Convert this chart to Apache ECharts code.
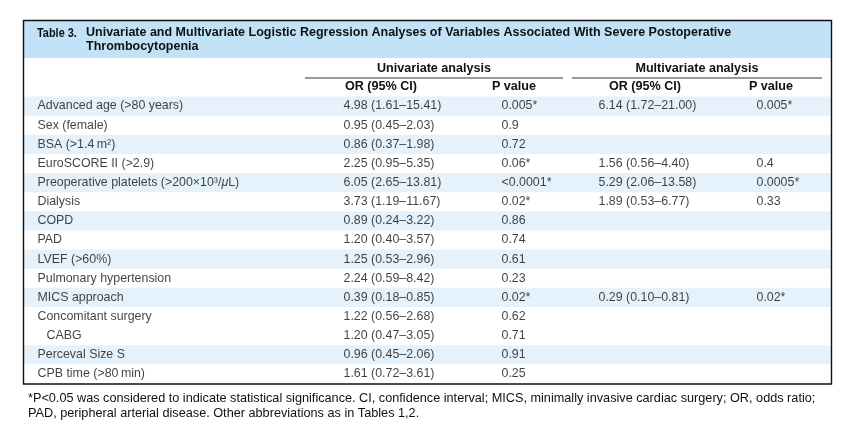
<!DOCTYPE html>
<html><head><meta charset="utf-8">
<script src="https://cdn.jsdelivr.net/npm/echarts@6/dist/echarts.min.js"></script>
<style>html,body{margin:0;padding:0;background:#fff}#c{width:856px;height:445px}</style>
</head><body><div id="c"></div>
<script>
// ---- data ----
const tableLabel = 'Table 3.';
const titleLines = ['Univariate and Multivariate Logistic Regression Analyses of Variables Associated With Severe Postoperative', 'Thrombocytopenia'];
const groupHeaders = ['Univariate analysis', 'Multivariate analysis'];
const columnHeaders = ['OR (95% CI)', 'P value', 'OR (95% CI)', 'P value'];
const variables = ['Advanced age (>80 years)', 'Sex (female)', 'BSA (>1.4\u2009m\u00b2)', 'EuroSCORE II (>2.9)',
  'Preoperative platelets (>200\u00d710\u00b3/{i|\u03bc}L)', 'Dialysis', 'COPD', 'PAD', 'LVEF (>60%)',
  'Pulmonary hypertension', 'MICS approach', 'Concomitant surgery', 'CABG', 'Perceval Size S', 'CPB time (>80\u2009min)'];
const indented = [0,0,0,0,0,0,0,0,0,0,0,0,1,0,0];
const shaded   = [1,0,1,0,1,0,1,0,1,0,1,0,0,1,0];
const uniOR = ['4.98 (1.61\u201315.41)', '0.95 (0.45\u20132.03)', '0.86 (0.37\u20131.98)', '2.25 (0.95\u20135.35)',
  '6.05 (2.65\u201313.81)', '3.73 (1.19\u201311.67)', '0.89 (0.24\u20133.22)', '1.20 (0.40\u20133.57)',
  '1.25 (0.53\u20132.96)', '2.24 (0.59\u20138.42)', '0.39 (0.18\u20130.85)', '1.22 (0.56\u20132.68)',
  '1.20 (0.47\u20133.05)', '0.96 (0.45\u20132.06)', '1.61 (0.72\u20133.61)'];
const uniP = ['0.005*', '0.9', '0.72', '0.06*', '<0.0001*', '0.02*', '0.86', '0.74', '0.61', '0.23', '0.02*', '0.62', '0.71', '0.91', '0.25'];
const multiOR = ['6.14 (1.72\u201321.00)', '', '', '1.56 (0.56\u20134.40)', '5.29 (2.06\u201313.58)', '1.89 (0.53\u20136.77)',
  '', '', '', '', '0.29 (0.10\u20130.81)', '', '', '', ''];
const multiP = ['0.005*', '', '', '0.4', '0.0005*', '0.33', '', '', '', '', '0.02*', '', '', '', ''];
const footnoteLines = ['*P<0.05 was considered to indicate statistical significance. CI, confidence interval; MICS, minimally invasive cardiac surgery; OR, odds ratio;',
  'PAD, peripheral arterial disease. Other abbreviations as in Tables 1,2.'];

// ---- layout ----
const FONT = '"Liberation Sans", Arial, Helvetica, sans-serif';
const NARROW = '"Liberation Sans Narrow", ' + FONT;
const INK = '#111111';
const BLUE_ROW = '#e6f2fb';
const BLUE_TITLE = '#c2e2f7';
const BODY_SIZE = 12.4;
const frame = {x: 23.5, y: 20.5, x2: 831.5, y2: 384};
const grid = {left: 24, top: 96.5, width: 807, height: 287};
const colX = [13, 319, 477, 574, 732]; // left edges relative to grid

const chart = echarts.init(document.getElementById('c'), null, {renderer: 'canvas'});

function textSeries(texts, x, extra) {
  return {
    type: 'scatter', silent: true, symbolSize: 1,
    itemStyle: {color: 'rgba(0,0,0,0)'},
    data: texts.map((t, i) => {
      const d = {value: [x, i]};
      if (extra) Object.assign(d, extra(i));
      return d;
    }),
    label: {
      show: true, position: 'right', distance: 0, align: 'left', verticalAlign: 'middle',
      color: INK, fontFamily: FONT, fontSize: BODY_SIZE,
      formatter: p => texts[p.dataIndex],
      rich: {i: {fontStyle: 'italic', fontFamily: FONT, fontSize: BODY_SIZE, color: INK}}
    },
    z: 5
  };
}

const headerStyle = (txt, x, y) => ({
  type: 'text', x, y,
  style: {text: txt, fill: INK, font: 'bold 12.6px ' + FONT, textAlign: 'center', textVerticalAlign: 'middle'}
});

chart.setOption({
  animation: false,
  grid: {left: grid.left, top: grid.top, width: grid.width, height: grid.height, containLabel: false},
  xAxis: {type: 'value', min: 0, max: grid.width, show: false},
  yAxis: {type: 'category', data: variables, inverse: true, show: false, boundaryGap: true},
  series: [
    {
      type: 'bar', silent: true, barCategoryGap: '0%',
      data: shaded.map(s => ({value: grid.width, itemStyle: {color: s ? BLUE_ROW : 'rgba(0,0,0,0)'}})),
      z: 1
    },
    textSeries(variables, colX[0], i => (indented[i] ? {label: {offset: [9, 0]}} : {})),
    textSeries(uniOR, colX[1]),
    textSeries(uniP, colX[2]),
    textSeries(multiOR, colX[3]),
    textSeries(multiP, colX[4])
  ],
  graphic: [
    {type: 'rect', shape: {x: 24, y: 21, width: 807, height: 37}, style: {fill: BLUE_TITLE}, z: 0},
    {type: 'rect', shape: {x: frame.x, y: frame.y, width: frame.x2 - frame.x, height: frame.y2 - frame.y},
      style: {fill: 'none', stroke: '#111', lineWidth: 1.4}, z: 10},
    {type: 'text', x: 37, y: 33, scaleX: 0.84, style: {text: tableLabel, fill: INK, font: 'bold 13px ' + NARROW, textVerticalAlign: 'middle'}},
    {type: 'text', x: 86, y: 33, style: {text: titleLines[0], fill: INK, font: 'bold 12.5px ' + NARROW, textVerticalAlign: 'middle'}},
    {type: 'text', x: 86, y: 47, style: {text: titleLines[1], fill: INK, font: 'bold 12.5px ' + NARROW, textVerticalAlign: 'middle'}},
    headerStyle(groupHeaders[0], 434, 69),
    headerStyle(groupHeaders[1], 697, 69),
    {type: 'line', shape: {x1: 305, y1: 78, x2: 563, y2: 78}, style: {stroke: '#333', lineWidth: 1}},
    {type: 'line', shape: {x1: 572, y1: 78, x2: 822, y2: 78}, style: {stroke: '#333', lineWidth: 1}},
    headerStyle(columnHeaders[0], 381, 87),
    headerStyle(columnHeaders[1], 514, 87),
    headerStyle(columnHeaders[2], 645, 87),
    headerStyle(columnHeaders[3], 771, 87),
    {type: 'text', x: 28, y: 398, style: {text: footnoteLines[0], fill: INK, font: '12.7px ' + FONT, textVerticalAlign: 'middle'}},
    {type: 'text', x: 28, y: 413, style: {text: footnoteLines[1], fill: INK, font: '12.7px ' + FONT, textVerticalAlign: 'middle'}}
  ]
});
</script></body></html>
